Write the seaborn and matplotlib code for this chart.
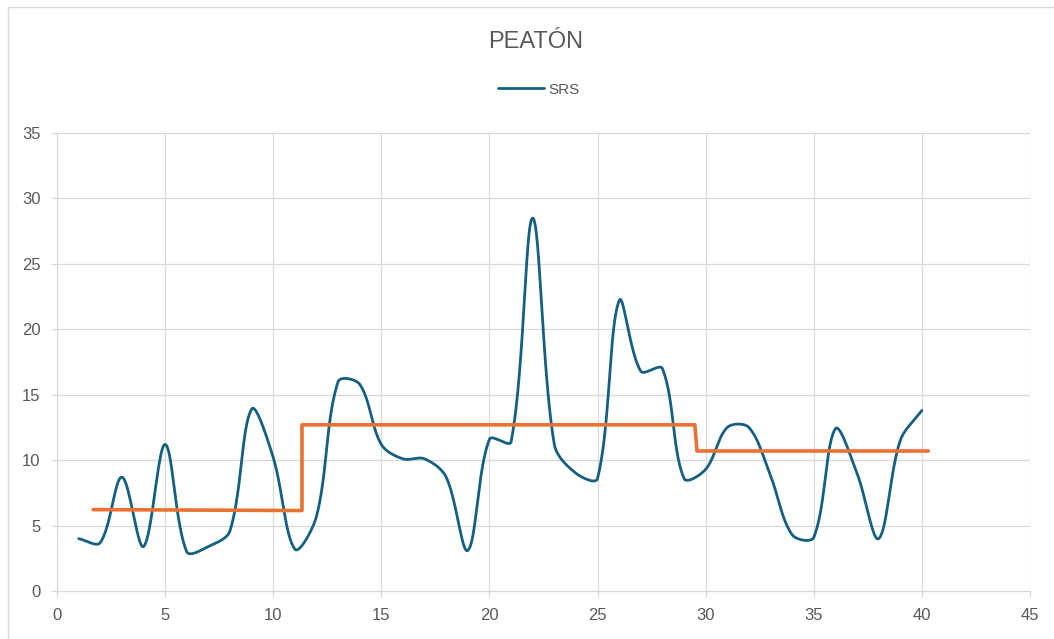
import numpy as np
import pandas as pd
import matplotlib
matplotlib.use("Agg")
import matplotlib.pyplot as plt
import matplotlib.lines as mlines
import seaborn as sns

# ---- data ----
x_vals = list(range(1, 41))
srs = [4.0, 3.7, 8.7, 3.4, 11.2, 3.0, 3.4, 4.6, 13.9, 10.2,
       3.2, 5.7, 16.0, 15.8, 11.2, 10.1, 10.1, 8.7, 3.1, 11.6,
       11.4, 28.5, 11.2, 9.0, 8.6, 22.2, 16.8, 17.0, 8.6, 9.3,
       12.5, 12.5, 8.8, 4.3, 4.1, 12.4, 9.0, 4.0, 11.5, 13.8]
step_x = [1.67, 11.33, 11.33, 29.5, 29.6, 40.3]
step_y = [6.22, 6.15, 12.7, 12.7, 10.7, 10.7]
x_ticks = [0, 5, 10, 15, 20, 25, 30, 35, 40, 45]
y_ticks = [0, 5, 10, 15, 20, 25, 30, 35]
title = "PEATÓN"
series_name = "SRS"

BLUE = "#156082"
ORANGE = "#E97132"
GRAY = "#595959"
GRID = "#d9d9d9"


def smooth(xs, ys, sx=21.6, sy=13.09, n=40):
    """Excel-like smoothing: cubic Bezier, tangent split by chord lengths."""
    P = np.column_stack([np.asarray(xs, float) * sx, np.asarray(ys, float) * sy])
    m = len(P)
    cin = np.zeros_like(P)
    cout = np.zeros_like(P)
    for i in range(m):
        prev = P[max(i - 1, 0)]
        nxt = P[min(i + 1, m - 1)]
        T = nxt - prev
        d1 = np.linalg.norm(P[i] - prev)
        d2 = np.linalg.norm(nxt - P[i])
        tot = d1 + d2 if d1 + d2 > 0 else 1
        cin[i] = P[i] - T * (d1 / tot) / 3
        cout[i] = P[i] + T * (d2 / tot) / 3
    t = np.linspace(0, 1, n)[:, None]
    out = []
    for i in range(m - 1):
        p0, c1, c2, p3 = P[i], cout[i], cin[i + 1], P[i + 1]
        b = (1 - t) ** 3 * p0 + 3 * (1 - t) ** 2 * t * c1 + 3 * (1 - t) * t ** 2 * c2 + t ** 3 * p3
        out.append(b if i == 0 else b[1:])
    out = np.vstack(out)
    return out[:, 0] / sx, out[:, 1] / sy


sns.set_theme(style="white")
plt.rcParams["font.family"] = ["Liberation Sans", "DejaVu Sans"]

fig = plt.figure(figsize=(10.54, 6.39), dpi=100)
ax = fig.add_axes([0.0541, 0.0751, 0.9231, 0.7167])

cx, cy = smooth(x_vals, srs)
df = pd.DataFrame({"x": cx, "y": cy})
sns.lineplot(data=df, x="x", y="y", sort=False, estimator=None, color=BLUE,
             linewidth=2.0, ax=ax, label=series_name, solid_capstyle="round")
step_df = pd.DataFrame({"x": step_x, "y": step_y})
sns.lineplot(data=step_df, x="x", y="y", sort=False, estimator=None, color=ORANGE,
             linewidth=2.6, ax=ax, legend=False)

ax.set_xlim(0, 45)
ax.set_ylim(0, 35)
ax.set_xticks(x_ticks)
ax.set_yticks(y_ticks)
ax.set_xlabel("")
ax.set_ylabel("")
ax.grid(True, color=GRID, linewidth=0.9)
ax.set_axisbelow(True)
for side in ["top", "right"]:
    ax.spines[side].set_visible(False)
for side in ["left", "bottom"]:
    ax.spines[side].set_color(GRID)
    ax.spines[side].set_linewidth(0.9)
ax.tick_params(axis="both", colors=GRID, labelcolor=GRAY, labelsize=12,
               length=4, width=0.9, direction="out", bottom=True, left=True)
ax.tick_params(axis="x", pad=8)
ax.tick_params(axis="y", pad=8)

fig.text(0.508, 0.934, title, ha="center", va="center", fontsize=17, color=GRAY)
leg = ax.legend(loc="center", bbox_to_anchor=(0.495, 1.095), frameon=False,
                fontsize=11, handlelength=3.0, handletextpad=0.3)
for t in leg.get_texts():
    t.set_color(GRAY)

# chart-area border (top and left edges visible in the reference)
W, H = 1054, 639
fig.add_artist(mlines.Line2D([8 / W, 1], [1 - 7 / H, 1 - 7 / H], transform=fig.transFigure,
                             color="#d9d9d9", linewidth=1))
fig.add_artist(mlines.Line2D([8 / W, 8 / W], [0, 1 - 7 / H], transform=fig.transFigure,
                             color="#d9d9d9", linewidth=1))

fig.savefig("out.png", dpi=100, facecolor="white")
